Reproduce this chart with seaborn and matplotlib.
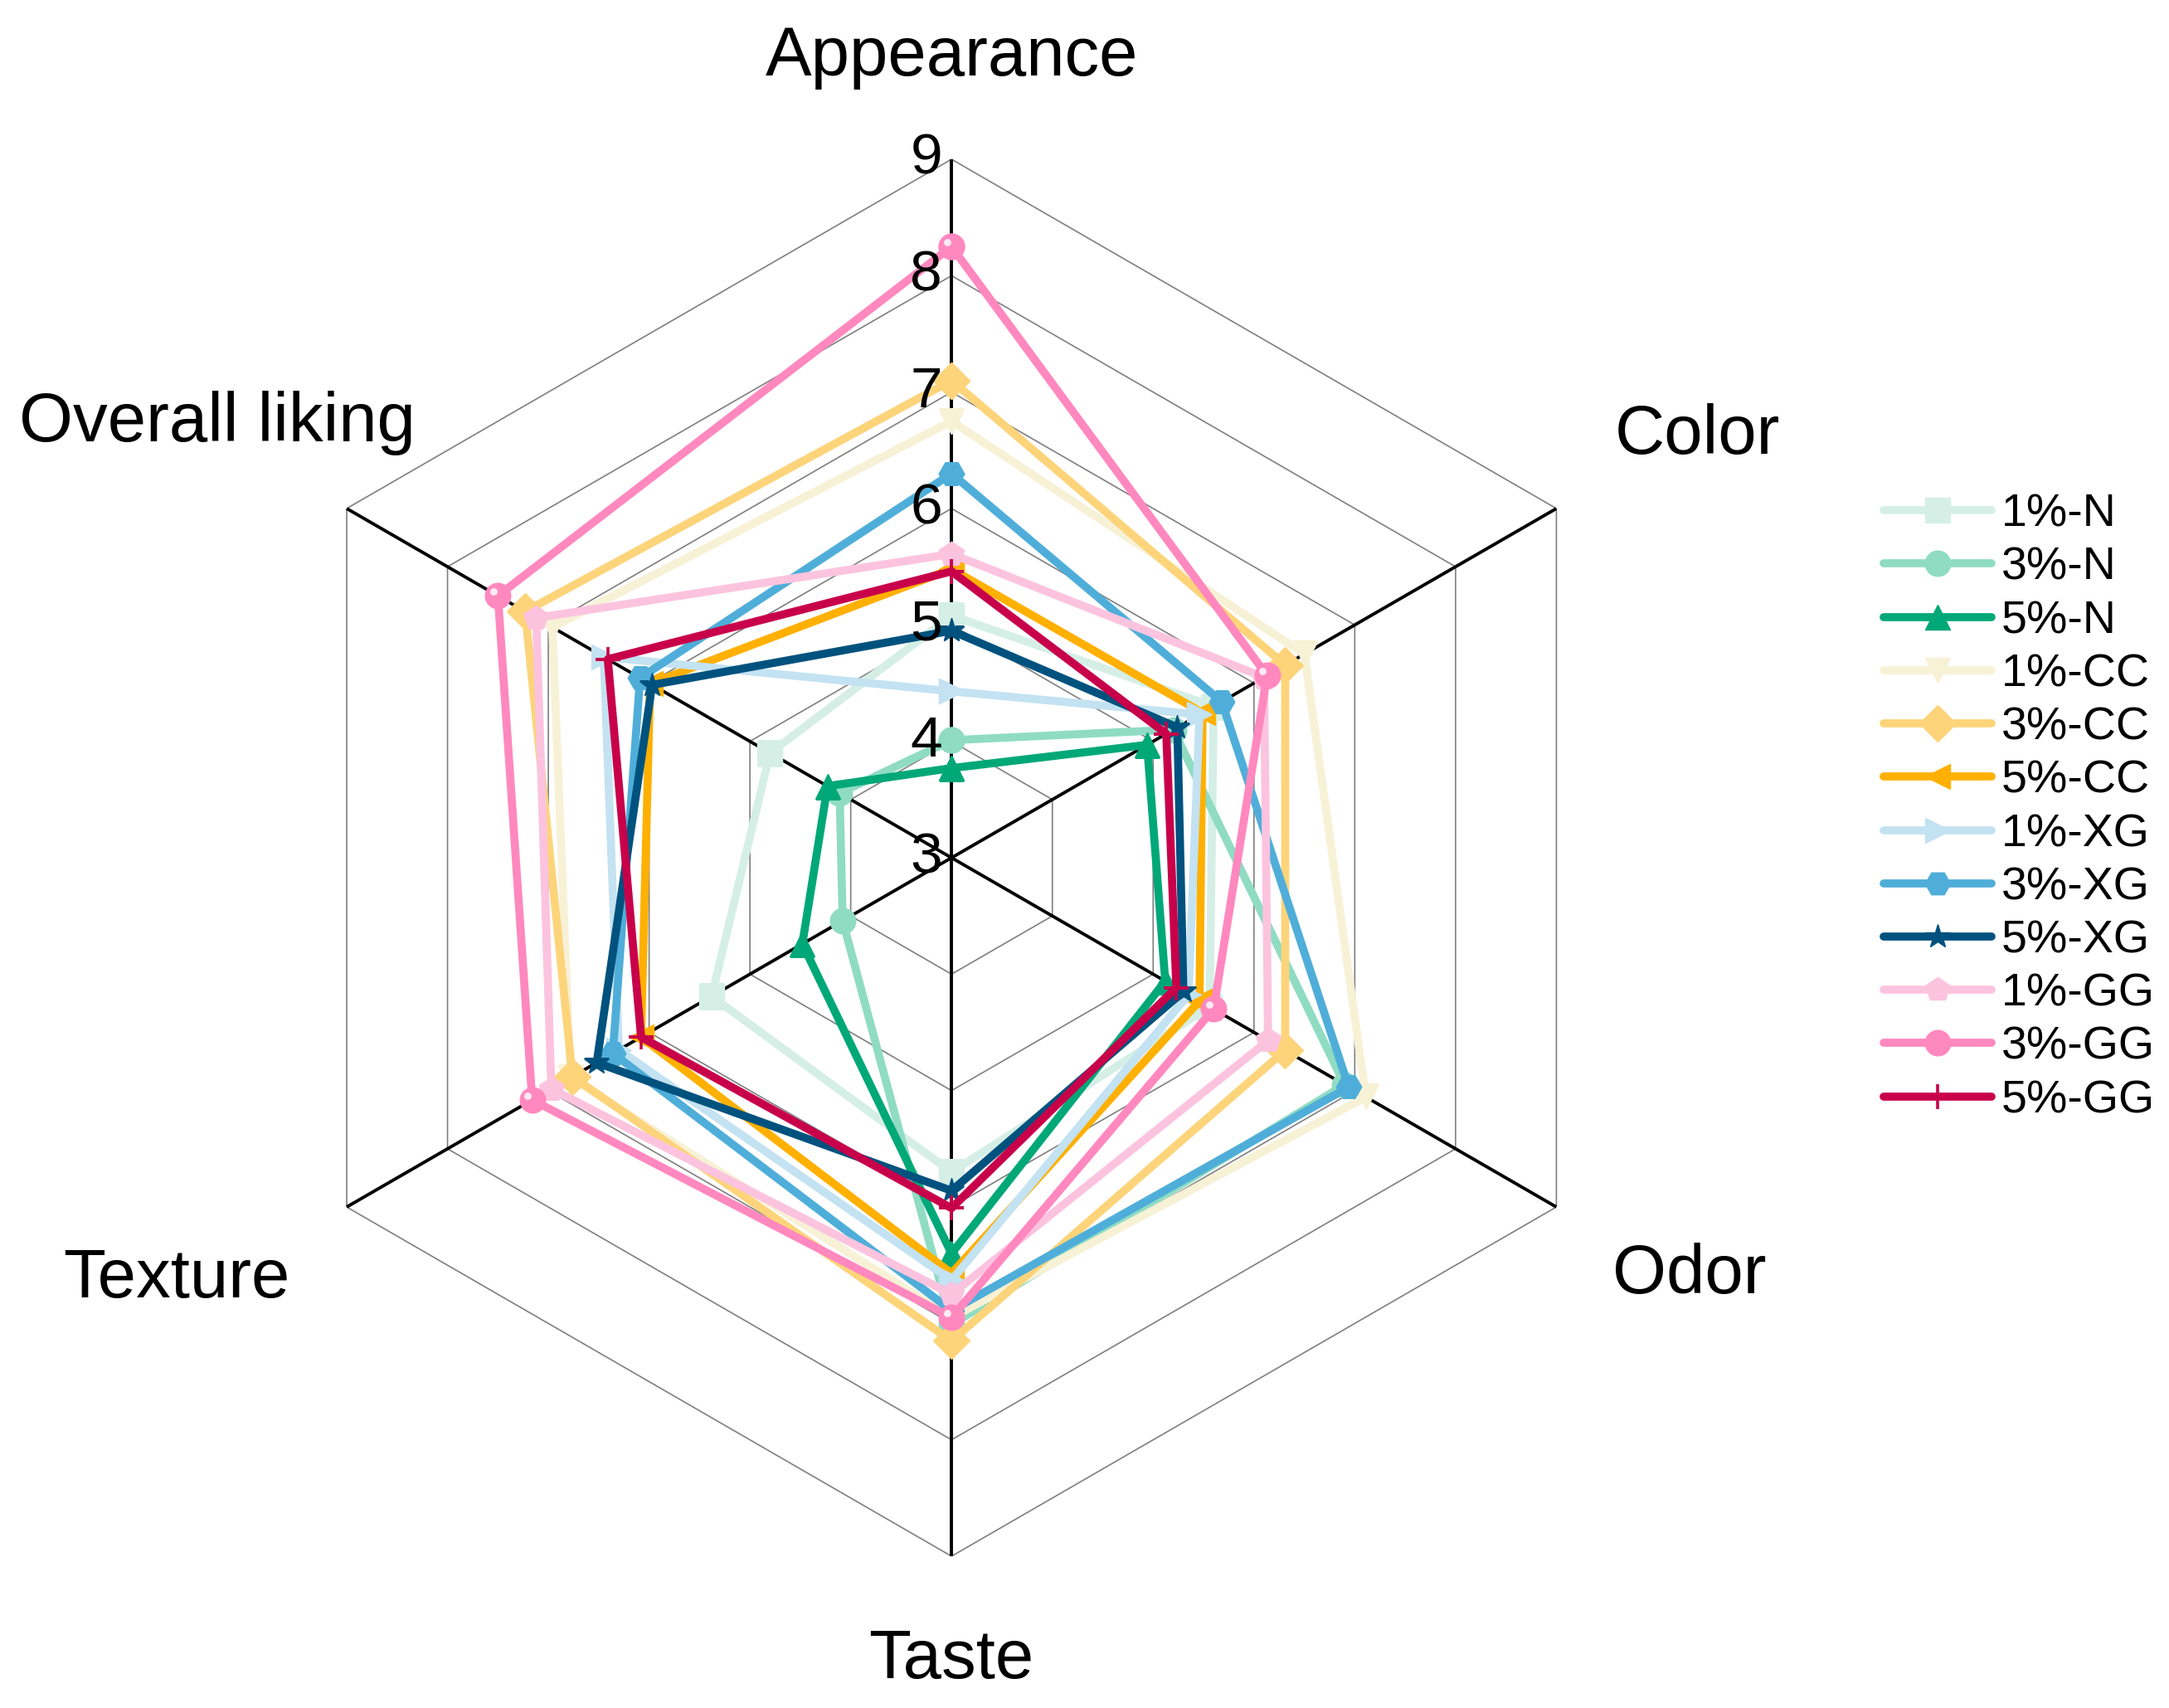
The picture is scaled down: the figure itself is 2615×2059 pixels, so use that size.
import numpy as np
import pandas as pd
import seaborn as sns
import matplotlib
matplotlib.use("Agg")
from matplotlib import pyplot as plt
from matplotlib.lines import Line2D
from matplotlib.transforms import offset_copy

sns.set_style("white")
plt.rcParams['font.family'] = ['Liberation Sans', 'DejaVu Sans']
plt.rcParams['text.color'] = 'black'

# attributes, clockwise from the top
attributes = ["Appearance", "Color", "Odor", "Taste", "Texture", "Overall liking"]
samples = ["1%-N", "3%-N", "5%-N", "1%-CC", "3%-CC", "5%-CC",
           "1%-XG", "3%-XG", "5%-XG", "1%-GG", "3%-GG", "5%-GG"]

# scores (same order as attributes)
n1 = [5.08, 5.60, 5.56, 5.70, 5.38, 4.80]
n3 = [4.01, 5.20, 6.90, 7.01, 4.08, 4.11]
n5 = [3.77, 4.94, 5.12, 6.40, 4.48, 4.23]
cc1 = [6.75, 6.50, 7.11, 6.95, 6.78, 6.96]
cc3 = [7.10, 6.31, 6.31, 7.15, 6.76, 7.23]
cc5 = [5.48, 5.49, 5.46, 6.57, 6.08, 5.99]
xg1 = [4.43, 5.46, 5.35, 6.63, 6.30, 6.45]
xg3 = [6.30, 5.68, 6.94, 6.89, 6.36, 6.09]
xg5 = [4.95, 5.24, 5.30, 5.86, 6.52, 5.97]
gg1 = [5.61, 6.10, 6.14, 6.75, 6.97, 7.12]
gg3 = [8.25, 6.13, 5.60, 6.95, 7.16, 7.50]
gg5 = [5.46, 5.13, 5.23, 6.01, 6.08, 6.41]
scores = [n1, n3, n5, cc1, cc3, cc5, xg1, xg3, xg5, gg1, gg3, gg5]

levels = [3, 4, 5, 6, 7, 8, 9]

colors = ["#D5EFE6", "#8FDCC3", "#00A878", "#F7F1D6", "#FDD47A", "#FFB000",
          "#C3E2F2", "#4FAED9", "#00527E", "#FCC3DF", "#FF88BF", "#C8004A"]
markers = ["s", "o", "^", "v", "D", "<", ">", "H", "*", "p", "o", "+"]

angles = np.linspace(0, 2 * np.pi, len(attributes), endpoint=False)
angles_closed = np.append(angles, 2 * np.pi)

# long table, first point repeated to close each polygon
rows = []
for s, vals in zip(samples, scores):
    for a, v in zip(angles_closed, vals + vals[:1]):
        rows.append({"sample": s, "angle": a, "score": v})
df = pd.DataFrame(rows)

fig = plt.figure(figsize=(13.075, 10.295), dpi=200)
ax = fig.add_axes([0.1167, 0.0888, 0.644, 0.818], projection="polar")
ax.set_theta_offset(np.pi / 2)
ax.set_theta_direction(-1)

# hexagonal grid and spokes
for lv in levels[1:]:
    ax.plot(angles_closed, [lv] * len(angles_closed), color="#7f7f7f", lw=0.6, zorder=1)
for a in angles:
    ax.plot([a, a], [levels[0], levels[-1]], color="black", lw=1.4, zorder=1.5)

LW = 3.5
MS = 11
for s, c, m in zip(samples, colors, markers):
    sns.lineplot(data=df[df["sample"] == s], x="angle", y="score", color=c,
                 marker=m, ms=MS, mec=c, mew=1.3 if m == "+" else 0.5,
                 lw=LW, sort=False, estimator=None, ax=ax, zorder=3)

# small highlight on the "ball" markers of 3%-GG
hl = offset_copy(ax.transData, fig=fig, x=-2.0, y=1.8, units="points")
ax.plot(angles, gg3, ls="none", marker="o", ms=3.2, color="#fdeaf3",
        mew=0, transform=hl, zorder=4)

ax.set_ylim(3, 9)
ax.axis("off")

# attribute labels (angle in degrees clockwise from top, radius in data units)
label_deg = [0, 60.5, 119.5, 180, 241.5, 300.6]
label_r = [9.88, 10.36, 10.28, 9.89, 10.58, 10.33]
for d, name, r in zip(label_deg, attributes, label_r):
    ax.text(np.deg2rad(d), r, name, ha="center", va="center", fontsize=30, color="black")

# radial tick labels along the first spoke
tk = offset_copy(ax.transData, fig=fig, x=-4, y=0, units="points")
for lv in levels:
    ax.text(0, lv, str(lv), ha="right", va="center", fontsize=25,
            color="black", transform=tk)

handles = [Line2D([], [], color=c, lw=LW, marker=m, ms=MS, mec=c,
                  mew=1.3 if m == "+" else 0.5)
           for c, m in zip(colors, markers)]
fig.legend(handles, samples, loc="center left", bbox_to_anchor=(0.8686, 0.527),
           frameon=False, fontsize=20, handlelength=2.34, handletextpad=0.21,
           labelspacing=0.22, borderaxespad=0, borderpad=0)

fig.savefig("out.png", dpi=200)
